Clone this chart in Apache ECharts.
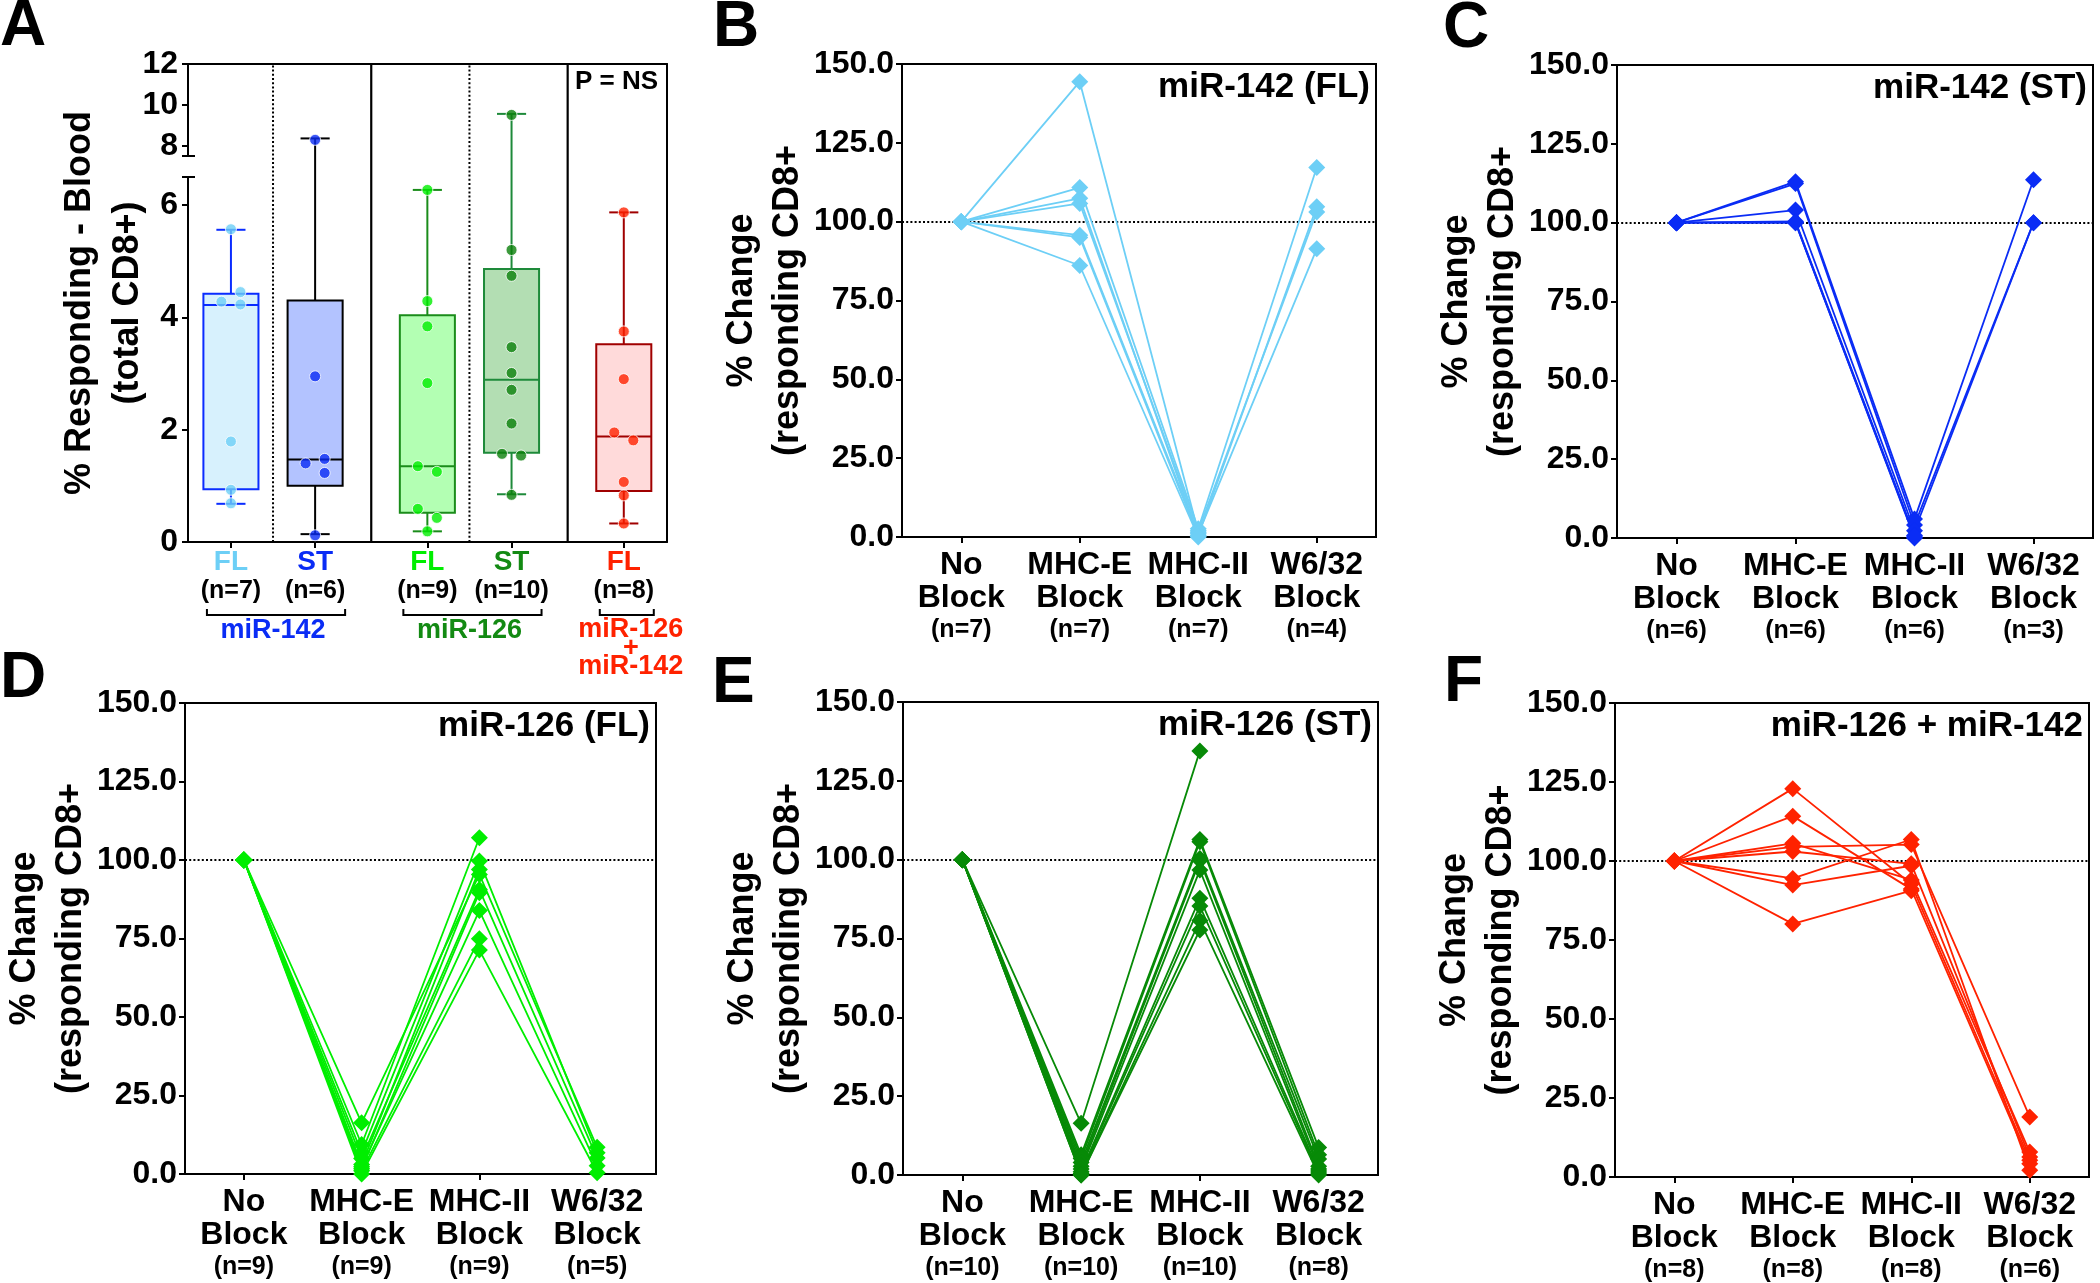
<!DOCTYPE html>
<html>
<head>
<meta charset="utf-8">
<script src="https://cdn.jsdelivr.net/npm/echarts@6/dist/echarts.min.js"></script>
<style>html,body{margin:0;padding:0;background:#fff}#c{width:2100px;height:1283px}</style>
</head>
<body>
<div id="c"></div>
<script>
// ================= DATA =================
// ---- Panel A : box plots (% responding, total CD8+) ----
const A_cats   = ['FL', 'ST', 'FL', 'ST', 'FL'];
const A_n      = ['(n=7)', '(n=6)', '(n=9)', '(n=10)', '(n=8)'];
const A_groups = ['miR-142', 'miR-126', 'miR-126\n+\nmiR-142'];
const A_groupOf = [0, 0, 1, 1, 2];
const A_pts_FL142 = [5.57, 4.45, 4.28, 4.23, 1.79, 0.93, 0.69];
const A_pts_ST142 = [8.29, 2.95, 1.48, 1.40, 1.23, 0.12];
const A_pts_FL126 = [6.27, 4.29, 3.84, 2.83, 1.35, 1.25, 0.59, 0.43, 0.19];
const A_pts_ST126 = [9.51, 5.20, 4.74, 3.47, 3.01, 2.71, 2.11, 1.57, 1.54, 0.84];
const A_pts_FLcombo = [5.87, 3.75, 2.90, 1.95, 1.81, 1.07, 0.83, 0.33];
// box stats: [min, q1, median, q3, max]
const A_box_FL142 = [0.68, 0.94, 4.22, 4.42, 5.56];
const A_box_ST142 = [0.14, 1.00, 1.47, 4.30, 8.36];
const A_box_FL126 = [0.19, 0.52, 1.35, 4.04, 6.27];
const A_box_ST126 = [0.85, 1.59, 2.89, 4.86, 9.56];
const A_box_FLcombo = [0.33, 0.91, 1.88, 3.52, 5.87];
const A_yLowTicks = [0, 2, 4, 6];
const A_yHighTicks = [8, 10, 12];
const A_yLowRange = [0, 6.5];
const A_yHighRange = [7.5, 12];

// ---- Panels B-F : % change (responding CD8+) ----
const blockCats = ['No Block', 'MHC-E Block', 'MHC-II Block', 'W6/32 Block'];
const B_n = [7, 7, 7, 4];
const B_rows = [
  [100, 144.4, 1.5, null],
  [100, 110.8, 2.6, 117.2],
  [100, 107.4, 0.5, 104.7],
  [100, 105.8, 2.0, 103.1],
  [100, 95.7, 1.0, 91.4],
  [100, 95.0, 0.2, null],
  [100, 86.1, 0.0, null]
];
const C_n = [6, 6, 6, 3];
const C_rows = [
  [100, 113.0, 6.0, 113.6],
  [100, 112.4, 4.1, 100.0],
  [100, 104.0, 2.3, 100.0],
  [100, 100.4, 0.8, null],
  [100, 100.0, 0.0, null],
  [100, 100.0, 0.3, null]
];
const D_n = [9, 9, 9, 5];
const D_rows = [
  [100, 16.3, 95.4, 8.5],
  [100, 9.4, 107.1, null],
  [100, 6.8, 99.7, 6.8],
  [100, 4.9, 90.6, 5.1],
  [100, 3.0, 97.0, null],
  [100, 2.3, 83.9, 2.6],
  [100, 1.7, 89.6, null],
  [100, 1.0, 74.9, null],
  [100, 0.0, 71.3, 0.4]
];
const E_n = [10, 10, 10, 8];
const E_rows = [
  [100, 16.4, 134.5, null],
  [100, 6.4, 106.4, 8.7],
  [100, 5.2, 105.7, 6.4],
  [100, 4.0, 100.4, 5.1],
  [100, 2.8, 99.7, 2.8],
  [100, 1.9, 96.7, 1.9],
  [100, 1.0, 87.8, 1.3],
  [100, 0.5, 85.3, 0.6],
  [100, 0.0, 80.7, 0.0],
  [100, 0.0, 77.7, null]
];
const F_n = [8, 8, 8, 6];
const F_rows = [
  [100, 122.9, 92.7, 5.3],
  [100, 114.2, 91.1, 4.2],
  [100, 105.6, 94.0, 7.9],
  [100, 104.5, 105.2, 19.0],
  [100, 103.0, 99.1, 6.3],
  [100, 94.5, 106.8, 2.1],
  [100, 92.4, 98.5, null],
  [100, 80.1, 90.6, null]
];
const lineTicks = { min: 0, max: 150, interval: 25 };
const refLine = 100;

// ================= STYLE / LAYOUT =================
const FONT = "'Liberation Sans', Arial, Helvetica, sans-serif";
const A_fill = ['#d7f1fd', '#b3c3ff', '#b3ffb3', '#b3deb3', '#ffdada'];
const A_edge = ['#0a2cff', '#000000', '#1a8c1a', '#1e8a3a', '#a00000'];
const A_dot  = ['#6dcff6', '#0a2cf5', '#00ee00', '#0a800a', '#ff2200'];
const A_labelColor = ['#6dcff6', '#0a2cf5', '#00ee00', '#138a13', '#ff2200'];
const A_groupColor = ['#0a2cf5', '#138a13', '#ff2200'];
const LAY = {
  A: { left: 188, right: 667, top: 64, brkTop: 156, brkBottom: 177, bottom: 542, xMin: -0.51, xMax: 5.18 },
  B: { left: 902, right: 1376, top: 64, bottom: 537, color: '#6dcff6', title: 'miR-142 (FL)' },
  C: { left: 1617, right: 2093, top: 65, bottom: 538, color: '#0a2cf5', title: 'miR-142 (ST)' },
  D: { left: 185, right: 656, top: 703, bottom: 1174, color: '#00ee00', title: 'miR-126 (FL)' },
  E: { left: 903, right: 1378, top: 702, bottom: 1175, color: '#078a07', title: 'miR-126 (ST)' },
  F: { left: 1615, right: 2089, top: 703, bottom: 1177, color: '#ff2200', title: 'miR-126 + miR-142' }
};
const GROUP_GAP = 1 / 3;
const BOX_HALF = 0.327, CAP_HALF = 0.173, JIT = 0.113;
const GAP = LAY.A.brkBottom - LAY.A.brkTop;
const BLACK = { color: '#000', width: 2 };

const A_pos = A_cats.map((_, i) => i + A_groupOf[i] * GROUP_GAP);
const A_points = [A_pts_FL142, A_pts_ST142, A_pts_FL126, A_pts_ST126, A_pts_FLcombo];
const A_box = [A_box_FL142, A_box_ST142, A_box_FL126, A_box_ST126, A_box_FLcombo];

// symmetric jitter for near-coincident points (like a column scatter)
function sides(values) {
  const idx = values.map((v, i) => i).sort((a, b) => values[a] - values[b]);
  const s = new Array(values.length).fill(0);
  let cl = [idx[0]];
  const flush = () => { if (cl.length > 1) cl.forEach((k, j) => { s[k] = j % 2 === 0 ? 1 : -1; }); };
  for (let j = 1; j < idx.length; j++) {
    if (values[idx[j]] - values[idx[j - 1]] < 0.18) cl.push(idx[j]);
    else { flush(); cl = [idx[j]]; }
  }
  flush();
  return s;
}

const chart = echarts.init(document.getElementById('c'), null, { renderer: 'canvas' });

const grids = [], xAxes = [], yAxes = [], series = [];
const noGridBounds = { outerBoundsMode: 'none', containLabel: false };

// ---------- Panel A ----------
const a = LAY.A;
grids.push(Object.assign({ left: a.left, top: a.brkBottom, width: a.right - a.left, height: a.bottom - a.brkBottom }, noGridBounds)); // 0
grids.push(Object.assign({ left: a.left, top: a.top, width: a.right - a.left, height: a.brkTop - a.top }, noGridBounds));          // 1
grids.push(Object.assign({ left: a.left, top: a.top, width: a.right - a.left, height: a.bottom - a.top }, noGridBounds));          // 2

const aRich = { n: { fontSize: 25, fontWeight: 'bold', color: '#000', lineHeight: 29, fontFamily: FONT } };
A_cats.forEach((c, i) => { aRich['c' + i] = { fontSize: 28, fontWeight: 'bold', color: A_labelColor[i], lineHeight: 29, fontFamily: FONT }; });

xAxes.push({
  gridIndex: 0, type: 'value', min: a.xMin, max: a.xMax,
  axisLine: { show: true, onZero: false, lineStyle: BLACK },
  axisTick: { show: true, customValues: A_pos, length: 6, lineStyle: BLACK },
  axisLabel: {
    customValues: A_pos, margin: 6,
    formatter: v => {
      let best = 0;
      A_pos.forEach((p, i) => { if (Math.abs(p - v) < Math.abs(A_pos[best] - v)) best = i; });
      return '{c' + best + '|' + A_cats[best] + '}\n{n|' + A_n[best] + '}';
    },
    rich: aRich
  },
  splitLine: { show: false }
});
xAxes.push({ gridIndex: 1, type: 'value', min: a.xMin, max: a.xMax, show: false });
xAxes.push({
  gridIndex: 2, type: 'value', min: a.xMin, max: a.xMax, position: 'top',
  axisLine: { show: true, onZero: false, lineStyle: BLACK },
  axisTick: { show: false }, axisLabel: { show: false }, splitLine: { show: false }
});

const aYLabel = { fontSize: 32, fontWeight: 'bold', color: '#000', margin: 10, fontFamily: FONT };
yAxes.push({ // 0
  gridIndex: 0, type: 'value', min: A_yLowRange[0], max: A_yLowRange[1], position: 'left',
  axisLine: { show: true, onZero: false, lineStyle: BLACK },
  axisTick: { show: true, customValues: A_yLowTicks.concat([A_yLowRange[1]]), length: 6, lineStyle: BLACK },
  axisLabel: Object.assign({ customValues: A_yLowTicks }, aYLabel),
  splitLine: { show: false }
});
yAxes.push({ // 1
  gridIndex: 1, type: 'value', min: A_yHighRange[0], max: A_yHighRange[1], position: 'left',
  axisLine: { show: true, onZero: false, lineStyle: BLACK },
  axisTick: { show: true, customValues: [A_yHighRange[0]].concat(A_yHighTicks), length: 6, lineStyle: BLACK },
  axisLabel: Object.assign({ customValues: A_yHighTicks }, aYLabel),
  splitLine: { show: false }
});
yAxes.push({ // 2 (right frame)
  gridIndex: 2, type: 'value', min: 0, max: 1, position: 'right',
  axisLine: { show: true, onZero: false, lineStyle: BLACK },
  axisTick: { show: false }, axisLabel: { show: false }, splitLine: { show: false }
});
yAxes.push({ // 3 inner break cap (low)
  gridIndex: 0, type: 'value', min: A_yLowRange[0], max: A_yLowRange[1], position: 'left',
  axisLine: { show: false, onZero: false },
  axisTick: { show: true, inside: true, customValues: [A_yLowRange[1]], length: 7, lineStyle: BLACK },
  axisLabel: { show: false }, splitLine: { show: false }
});
yAxes.push({ // 4 inner break cap (high)
  gridIndex: 1, type: 'value', min: A_yHighRange[0], max: A_yHighRange[1], position: 'left',
  axisLine: { show: false, onZero: false },
  axisTick: { show: true, inside: true, customValues: [A_yHighRange[0]], length: 7, lineStyle: BLACK },
  axisLabel: { show: false }, splitLine: { show: false }
});

// separators (frame grid)
const seps = [];
for (let i = 0; i < A_pos.length - 1; i++) {
  seps.push([(A_pos[i] + A_pos[i + 1]) / 2, A_groupOf[i] === A_groupOf[i + 1] ? 1 : 0]);
}
series.push({
  type: 'custom', xAxisIndex: 2, yAxisIndex: 2, z: 1, silent: true,
  data: seps,
  renderItem: (params, api) => {
    const p0 = api.coord([api.value(0), 0]);
    const p1 = api.coord([api.value(0), 1]);
    return {
      type: 'line', shape: { x1: p0[0], y1: p0[1], x2: p1[0], y2: p1[1] },
      style: { stroke: '#000', lineWidth: api.value(1) ? 2 : 2.2, lineDash: api.value(1) ? [2, 2.2] : null }
    };
  }
});

// boxes (lower grid)
series.push({
  type: 'custom', xAxisIndex: 0, yAxisIndex: 0, z: 2, silent: true, clip: false,
  data: A_box.map((b, i) => [A_pos[i]].concat(b).concat([i])),
  encode: { x: 0, y: [1, 2, 3, 4, 5] },
  renderItem: (params, api) => {
    const i = api.value(6);
    const xv = api.value(0);
    const x = api.coord([xv, 0])[0];
    const unit = api.size([1, 0])[0];
    const hw = BOX_HALF * unit, cw = CAP_HALF * unit;
    const y = v => api.coord([xv, v])[1];
    const mn = api.value(1), q1 = api.value(2), md = api.value(3), q3 = api.value(4), mx = api.value(5);
    const st = { stroke: A_edge[i], lineWidth: 2 };
    const inRange = mx <= A_yLowRange[1];
    const yTop = inRange ? y(mx) : y(A_yLowRange[1]) - GAP;
    const ch = [
      { type: 'line', shape: { x1: x, y1: y(q3), x2: x, y2: yTop }, style: st },
      { type: 'line', shape: { x1: x, y1: y(q1), x2: x, y2: y(mn) }, style: st },
      { type: 'line', shape: { x1: x - cw, y1: y(mn), x2: x + cw, y2: y(mn) }, style: st },
      { type: 'rect', shape: { x: x - hw, y: y(q3), width: 2 * hw, height: y(q1) - y(q3) }, style: { fill: A_fill[i], stroke: A_edge[i], lineWidth: 2 } },
      { type: 'line', shape: { x1: x - hw, y1: y(md), x2: x + hw, y2: y(md) }, style: st }
    ];
    if (inRange) ch.push({ type: 'line', shape: { x1: x - cw, y1: y(mx), x2: x + cw, y2: y(mx) }, style: st });
    return { type: 'group', children: ch };
  }
});
// whisker tops above the break (upper grid)
series.push({
  type: 'custom', xAxisIndex: 1, yAxisIndex: 1, z: 2, silent: true, clip: false,
  data: A_box.map((b, i) => [A_pos[i], b[4], i]).filter(d => d[1] > A_yHighRange[0]),
  encode: { x: 0, y: 1 },
  renderItem: (params, api) => {
    const i = api.value(2), xv = api.value(0);
    const x = api.coord([xv, A_yHighRange[0]])[0];
    const unit = api.size([1, 0])[0];
    const cw = CAP_HALF * unit;
    const yb = api.coord([xv, A_yHighRange[0]])[1];
    const yt = api.coord([xv, api.value(1)])[1];
    const st = { stroke: A_edge[i], lineWidth: 2 };
    return { type: 'group', children: [
      { type: 'line', shape: { x1: x, y1: yb, x2: x, y2: yt }, style: st },
      { type: 'line', shape: { x1: x - cw, y1: yt, x2: x + cw, y2: yt }, style: st }
    ] };
  }
});
// points
const lowPts = [], highPts = [];
A_points.forEach((vals, g) => {
  const low = vals.filter(v => v <= A_yLowRange[1]);
  const sd = sides(low);
  low.forEach((v, k) => lowPts.push({ value: [A_pos[g] + sd[k] * JIT, v], itemStyle: { color: A_dot[g] } }));
  vals.filter(v => v >= A_yHighRange[0]).forEach(v => highPts.push({ value: [A_pos[g], v], itemStyle: { color: A_dot[g] } }));
});
const ptStyle = { type: 'scatter', symbol: 'circle', symbolSize: 11, z: 3, silent: true,
  itemStyle: { borderColor: '#fff', borderWidth: 1 } };
series.push(Object.assign({ xAxisIndex: 0, yAxisIndex: 0, data: lowPts }, ptStyle));
series.push(Object.assign({ xAxisIndex: 1, yAxisIndex: 1, data: highPts }, ptStyle));

// ---------- Panels B-F ----------
const panels = [
  ['B', B_rows, B_n], ['C', C_rows, C_n], ['D', D_rows, D_n], ['E', E_rows, E_n], ['F', F_rows, F_n]
];
panels.forEach(([key, rows, nArr]) => {
  const L = LAY[key];
  const gi = grids.length;
  grids.push(Object.assign({ left: L.left, top: L.top, width: L.right - L.left, height: L.bottom - L.top,
    show: true, borderColor: '#000', borderWidth: 2, backgroundColor: 'rgba(0,0,0,0)' }, noGridBounds));
  const xi = xAxes.length, yi = yAxes.length;
  xAxes.push({
    gridIndex: gi, type: 'category', data: blockCats, boundaryGap: true,
    axisLine: { show: true, onZero: false, lineStyle: BLACK },
    axisTick: { show: true, alignWithLabel: true, length: 6, lineStyle: BLACK },
    axisLabel: {
      interval: 0, margin: 12,
      formatter: (val, idx) => {
        const sp = val.lastIndexOf(' ');
        return '{a|' + val.slice(0, sp) + '}\n{a|' + val.slice(sp + 1) + '}\n{b|(n=' + nArr[idx] + ')}';
      },
      rich: {
        a: { fontSize: 32, fontWeight: 'bold', color: '#000', lineHeight: 32.5, fontFamily: FONT },
        b: { fontSize: 25, fontWeight: 'bold', color: '#000', lineHeight: 33, fontFamily: FONT }
      }
    },
    splitLine: { show: false }
  });
  yAxes.push({
    gridIndex: gi, type: 'value', min: lineTicks.min, max: lineTicks.max, interval: lineTicks.interval,
    axisLine: { show: true, onZero: false, lineStyle: BLACK },
    axisTick: { show: true, length: 6, lineStyle: BLACK },
    axisLabel: { formatter: v => v.toFixed(1), fontSize: 32, fontWeight: 'bold', color: '#000', margin: 8, fontFamily: FONT },
    splitLine: { show: false }
  });
  rows.forEach((row, r) => {
    const s = {
      type: 'line', xAxisIndex: xi, yAxisIndex: yi, data: row, connectNulls: false,
      symbol: 'diamond', symbolSize: 17, showSymbol: true, showAllSymbol: true, silent: true,
      lineStyle: { width: 1.8, color: L.color }, itemStyle: { color: L.color }, z: 3
    };
    if (r === 0) {
      s.markLine = {
        silent: true, symbol: 'none', label: { show: false },
        lineStyle: { color: '#000', width: 2, type: [2, 2.2] },
        data: [{ yAxis: refLine }], z: 1
      };
    }
    series.push(s);
  });
});

chart.setOption({
  animation: false,
  backgroundColor: '#fff',
  textStyle: { fontFamily: FONT },
  grid: grids, xAxis: xAxes, yAxis: yAxes, series: series
});

// ---------- text / decorations ----------
const g = [];
const txt = (x, y, text, size, opt) => Object.assign({
  type: 'text', x: x, y: y, silent: true, z: 10,
  style: Object.assign({ text: text, fontSize: size, fontWeight: 'bold', fontFamily: FONT, fill: '#000',
    align: 'left', verticalAlign: 'middle' }, (opt && opt.style) || {})
}, opt && opt.rotation ? { rotation: opt.rotation } : {});

// panel letters
[['A', 0, 27], ['B', 713, 28], ['C', 1443, 29], ['D', 0, 679], ['E', 712, 684], ['F', 1444, 683]]
  .forEach(([t, x, y]) => g.push(txt(x, y, t, 64)));

// y-axis titles
const rot = Math.PI / 2;
g.push(txt(104, (a.top + a.bottom) / 2, '% Responding - Blood\n(total CD8+)', 36,
  { rotation: rot, style: { align: 'center', lineHeight: 48 } }));
['B', 'C', 'D', 'E', 'F'].forEach(k => {
  const L = LAY[k];
  g.push(txt(L.left - 137, (L.top + L.bottom) / 2, '% Change\n(responding CD8+', 36,
    { rotation: rot, style: { align: 'center', lineHeight: 46 } }));
  g.push(txt(L.right - 6, L.top + 23, L.title, 35, { style: { align: 'right' } }));
});

// P = NS
g.push(txt(a.right - 9, a.top + 18, 'P = NS', 26, { style: { align: 'right' } }));

// brackets + group labels under panel A
const px = v => chart.convertToPixel({ xAxisIndex: 0 }, v);
A_groups.forEach((name, gidx) => {
  const members = A_pos.filter((p, i) => A_groupOf[i] === gidx);
  const x1 = px(members[0]) - 24, x2 = px(members[members.length - 1]) + 30;
  const yb = a.bottom + 73;
  g.push({ type: 'polyline', silent: true, z: 10,
    shape: { points: [[x1, yb - 6], [x1, yb], [x2, yb], [x2, yb - 6]] },
    style: { stroke: '#000', lineWidth: 2, fill: null } });
  const multi = name.indexOf('\n') >= 0;
  const cx = multi ? px(members[0]) + 7 : (x1 + x2) / 2 - 3;
  g.push(txt(cx, multi ? a.bottom + 106.5 : a.bottom + 89, name, 27,
    { style: { align: 'center', fill: A_groupColor[gidx], lineHeight: multi ? 18.5 : 30 } }));
});

chart.setOption({ graphic: g });
</script>
</body>
</html>
